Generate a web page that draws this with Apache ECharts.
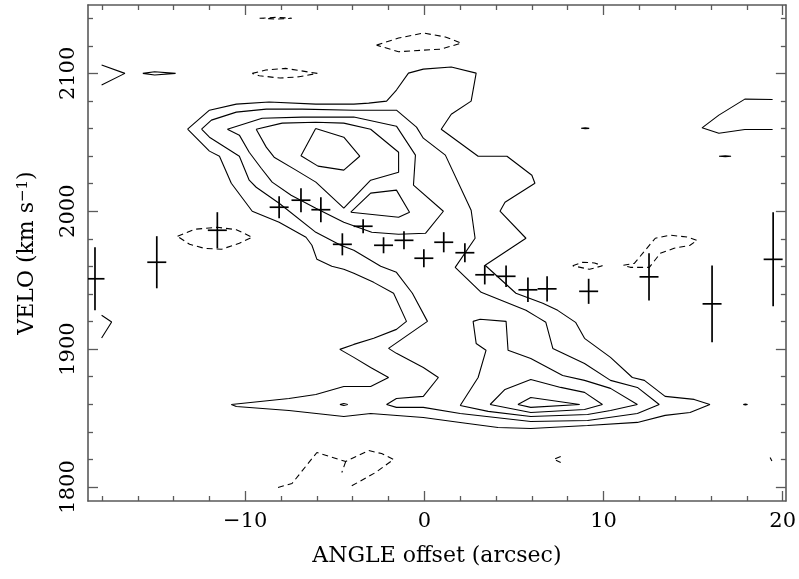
<!DOCTYPE html>
<html>
<head>
<meta charset="utf-8">
<script src="https://cdn.jsdelivr.net/npm/echarts@6/dist/echarts.min.js"></script>
<style>
html, body { margin: 0; padding: 0; background: #fff; }
#main { width: 799px; height: 579px; }
</style>
</head>
<body>
<div id="main"></div>
<script>
// axis ranges and ticks
const xRange = [-18.78, 20.18];
const yRange = [1789.8, 2149.6];
const xMajor = [-10, 0, 10, 20];
const xMinor = [-18, -16, -14, -12, -8, -6, -4, -2, 2, 4, 6, 8, 12, 14, 16, 18];
const yMajor = [1800, 1900, 2000, 2100];
const yMinor = [1820, 1840, 1860, 1880, 1920, 1940, 1960, 1980, 2020, 2040, 2060, 2080, 2120, 2140];

// measured velocities along the slit (arcsec, km/s, km/s error)
const ptX = [-18.39, -14.94, -11.56, -8.11, -6.89, -5.78, -4.58, -3.42, -2.28, -1.14, -0.03, 1.08, 2.26, 3.37, 4.56, 5.78, 6.85, 9.17, 12.54, 16.06, 19.47];
const ptV = [1951.0, 1963.0, 1986.2, 2002.9, 2008.0, 2001.1, 1976.0, 1989.1, 1975.3, 1978.9, 1965.9, 1977.5, 1969.9, 1953.9, 1952.8, 1943.0, 1943.7, 1941.9, 1952.4, 1932.8, 1965.1];
const ptErr = [22.9, 18.9, 13.1, 8.0, 8.7, 9.1, 8.0, 5.1, 5.8, 6.5, 6.5, 7.3, 6.9, 7.0, 7.8, 8.9, 9.2, 9.1, 17.2, 27.8, 34.1];
const ptErrX = 0.53;

// positive contours (closed)
const lev1 = [[-13.22,2059.5],[-12.0,2073.3],[-10.5,2077.7],[-8.67,2079.2],[-6.06,2077.7],[-3.94,2077.7],[-3.11,2078.4],[-2.11,2079.9],[-1.56,2087.9],[-0.89,2100.2],[-0.06,2103.1],[1.5,2104.6],[2.89,2100.2],[2.61,2079.9],[1.5,2070.4],[0.94,2059.5],[3.0,2039.9],[4.61,2039.9],[6.0,2026.1],[6.17,2020.3],[4.5,2006.5],[4.22,2000.0],[5.67,1980.4],[3.39,1960.8],[5.11,1940.5],[6.61,1933.2],[7.44,1928.1],[8.44,1919.4],[8.94,1907.8],[10.39,1894.0],[11.61,1879.4],[12.28,1877.3],[13.44,1865.7],[15.06,1863.5],[15.94,1859.8],[14.83,1854.0],[13.44,1851.9],[11.89,1846.8],[9.11,1844.6],[5.94,1842.4],[4.11,1843.1],[2.0,1846.8],[-0.06,1850.4],[-3.0,1853.3],[-4.5,1851.1],[-7.56,1855.5],[-10.5,1858.4],[-10.78,1859.8],[-7.56,1864.2],[-6.06,1867.1],[-4.5,1872.9],[-3.0,1872.9],[-2.0,1879.4],[-3.0,1886.7],[-3.94,1894.0],[-4.72,1899.8],[-3.94,1903.4],[-2.83,1907.8],[-1.56,1914.3],[-1.0,1920.1],[-1.72,1940.5],[-2.83,1948.4],[-3.94,1955.0],[-4.5,1957.9],[-5.17,1960.1],[-6.0,1965.1],[-6.28,1975.3],[-6.61,1981.1],[-8.11,1992.0],[-9.61,2000.0],[-10.78,2020.3],[-11.44,2039.9],[-12.0,2043.6]];
const lev2 = [[-12.44,2059.5],[-11.89,2066.1],[-10.5,2071.9],[-8.83,2074.1],[-6.83,2074.1],[-3.94,2073.3],[-1.56,2073.3],[-0.44,2061.0],[-0.06,2053.0],[1.17,2040.7],[2.61,2000.7],[2.83,1980.4],[1.72,1959.3],[3.17,1941.2],[5.67,1928.1],[6.33,1923.0],[6.78,1919.4],[7.17,1900.5],[8.94,1889.6],[10.39,1877.3],[11.89,1872.2],[13.11,1859.8],[11.89,1853.3],[9.11,1848.2],[5.94,1847.5],[2.0,1853.3],[-0.06,1857.7],[-1.56,1857.7],[-2.11,1859.8],[-1.56,1864.2],[-0.06,1865.7],[0.78,1879.4],[-0.06,1886.7],[-1.56,1896.9],[-2.0,1900.5],[0.17,1920.1],[-0.67,1940.5],[-1.56,1955.7],[-2.44,1960.1],[-3.94,1971.7],[-4.67,1975.3],[-6.06,1984.7],[-8.11,2005.8],[-9.39,2017.4],[-9.78,2022.5],[-10.33,2039.9],[-12.0,2053.7]];
const lev3Upper = [[-11.0,2059.5],[-9.06,2067.5],[-6.83,2068.3],[-3.94,2068.3],[-1.56,2061.7],[-0.5,2040.7],[-0.61,2018.9],[1.06,2000.0],[0.06,1984.0],[-1.44,1983.3],[-2.94,1984.7],[-4.5,1992.0],[-6.06,2002.2],[-7.44,2011.6],[-8.5,2021.1],[-9.11,2031.2],[-9.78,2042.8],[-10.33,2055.2]];
const lev3Lower = [[2.0,1859.1],[3.0,1879.4],[3.44,1899.1],[2.89,1904.1],[2.72,1920.1],[3.11,1921.6],[4.56,1920.1],[4.67,1899.1],[5.94,1893.2],[7.72,1880.9],[8.94,1877.3],[10.39,1871.5],[11.89,1859.8],[10.39,1855.5],[9.11,1852.6],[5.94,1851.1],[3.56,1854.8]];
const lev4Upper = [[-9.39,2059.5],[-7.94,2063.9],[-6.06,2064.6],[-4.5,2063.9],[-3.0,2059.5],[-1.44,2042.8],[-1.44,2028.3],[-3.0,2022.5],[-4.5,2002.2],[-6.06,2021.1],[-7.17,2029.8],[-8.39,2039.2],[-8.83,2046.5]];
const lev4Lower = [[3.67,1859.8],[4.5,1870.7],[5.94,1878.0],[7.61,1872.2],[8.94,1868.6],[9.94,1859.8],[8.94,1856.2],[5.94,1854.0]];
const lev5Upper = [[-6.07,2060.0],[-4.5,2053.7],[-3.61,2039.9],[-4.5,2029.8],[-5.94,2032.7],[-6.89,2040.3]];
const lev5Mid = [[-4.11,1999.3],[-3.0,2013.1],[-1.56,2015.3],[-0.83,1999.3],[-1.44,1995.6]];
const lev5Lower = [[5.22,1859.8],[5.94,1864.9],[8.67,1859.8],[5.94,1857.7]];
const dotA = [[-4.72,1859.8],[-4.5,1860.5],[-4.28,1859.8],[-4.5,1859.1]];
const dotB = [[17.8,1859.8],[17.92,1860.2],[18.04,1859.8],[17.92,1859.4]];
const blipA = [[8.75,2060.2],[8.98,2060.6],[9.2,2060.1],[8.98,2059.8]];
const blipB = [[16.45,2039.9],[16.8,2040.3],[17.12,2039.9],[16.8,2039.5]];
const lensTop = [[-15.72,2100.0],[-15.06,2101.2],[-13.89,2100.0],[-15.06,2098.8]];

// positive contours cut by the data edge (open)
const arcRight = [[19.44,2081.1],[17.89,2081.3],[16.44,2069.7],[15.5,2060.5],[16.44,2056.6],[17.89,2059.3],[19.44,2059.3]];
const chevTop = [[-18.02,2106.0],[-16.72,2100.0],[-18.02,2091.5]];
const chevLow = [[-18.02,1924.5],[-17.46,1919.6],[-18.02,1908.0]];

// negative contours (dashed)
const negTop = [[-9.2,2140.0],[-8.3,2140.6],[-7.4,2140.0],[-8.3,2139.4]];
const negA = [[-2.67,2120.5],[-1.44,2125.6],[-0.06,2129.3],[1.17,2126.4],[2.06,2122.0],[0.94,2117.6],[-1.44,2115.7]];
const negB = [[-9.61,2100.0],[-8.85,2102.4],[-7.74,2103.6],[-5.98,2100.0],[-7.0,2097.5],[-8.06,2096.6],[-9.22,2098.3]];
const negC = [[-13.78,1981.8],[-12.83,1986.9],[-11.56,1988.4],[-10.5,1986.6],[-9.61,1981.1],[-10.33,1976.8],[-11.33,1972.4],[-12.28,1973.1],[-13.11,1976.0]];
const negD = [[11.11,1960.8],[11.72,1962.2],[12.33,1971.7],[12.89,1980.4],[13.72,1982.6],[14.67,1981.3],[15.22,1978.9],[14.83,1975.3],[13.94,1973.1],[13.17,1969.5],[12.56,1959.3],[11.5,1959.3]];
const negE = [[8.28,1960.4],[8.83,1963.0],[9.5,1962.5],[9.94,1960.4],[9.22,1957.9]];
const negBottom = [[-8.17,1799.6],[-7.39,1802.5],[-6.0,1825.0],[-4.78,1820.0],[-4.39,1818.5],[-3.11,1826.4],[-2.39,1824.2],[-1.72,1819.9],[-2.72,1810.5],[-4.22,1799.6]];
const negBottomStub = [[-4.39,1818.5],[-4.61,1810.5]];
const negSmallA = [[7.61,1822.1],[7.22,1820.0],[7.61,1817.8]];
const negSmallB = [[19.3,1821.4],[19.4,1818.9]];

const solidClosed = [lev1, lev2, lev3Upper, lev3Lower, lev4Upper, lev4Lower, lev5Upper, lev5Mid, lev5Lower, dotA, dotB, blipA, blipB, lensTop];
const solidOpen = [arcRight, chevTop, chevLow];
const dashClosed = [negTop, negA, negB, negC, negD, negE];
const dashOpen = [negBottom, negBottomStub, negSmallA, negSmallB];

const frameColor = '#5a5a5a';
const fontName = 'DejaVu Serif';

function contour(pts, closed, dashed) {
  return {
    type: 'line',
    data: closed ? pts.concat([pts[0]]) : pts,
    symbol: 'none',
    silent: true,
    lineStyle: { color: '#000', width: 1.1, type: dashed ? [6, 4] : 'solid' },
    z: 3
  };
}

function minus(v) {
  return v < 0 ? '\u2212' + Math.abs(v) : String(v);
}

function xAx(pos, ticks, len, withLine, withLabel) {
  const a = {
    type: 'value', position: pos, min: xRange[0], max: xRange[1],
    axisLine: { show: withLine, onZero: false, lineStyle: { color: frameColor, width: 1.6 } },
    axisTick: { show: true, inside: true, length: len, customValues: ticks, lineStyle: { color: frameColor, width: 1.3 } },
    axisLabel: { show: withLabel, customValues: ticks, margin: 10, color: '#000', fontFamily: fontName, fontSize: 21, formatter: minus },
    splitLine: { show: false }
  };
  if (withLabel) {
    a.name = 'ANGLE offset (arcsec)';
    a.nameLocation = 'middle';
    a.nameGap = 44;
    a.nameTextStyle = { color: '#000', fontFamily: fontName, fontSize: 22 };
  }
  return a;
}

function yAx(pos, ticks, len, withLine, withLabel) {
  const a = {
    type: 'value', position: pos, min: yRange[0], max: yRange[1],
    axisLine: { show: withLine, onZero: false, lineStyle: { color: frameColor, width: 1.6 } },
    axisTick: { show: true, inside: true, length: len, customValues: ticks, lineStyle: { color: frameColor, width: 1.3 } },
    axisLabel: { show: withLabel, customValues: ticks, rotate: 90, margin: 9, color: '#000', fontFamily: fontName, fontSize: 21, formatter: v => String(v) },
    splitLine: { show: false }
  };
  if (withLabel) {
    a.name = '{a|VELO (km s}{b|\u22121}{a|)}';
    a.nameLocation = 'middle';
    a.nameGap = 50;
    a.nameTextStyle = {
      color: '#000',
      rich: {
        a: { fontFamily: fontName, fontSize: 22, color: '#000', verticalAlign: 'bottom' },
        b: { fontFamily: fontName, fontSize: 15, color: '#000', verticalAlign: 'top' }
      }
    };
  }
  return a;
}

const series = [];
solidClosed.forEach(c => series.push(contour(c, true, false)));
solidOpen.forEach(c => series.push(contour(c, false, false)));
dashClosed.forEach(c => series.push(contour(c, true, true)));
dashOpen.forEach(c => series.push(contour(c, false, true)));

series.push({
  type: 'custom',
  clip: true,
  silent: true,
  z: 4,
  data: ptX.map((x, i) => [x, ptV[i], ptErr[i]]),
  encode: { x: 0, y: 1 },
  renderItem: function (params, api) {
    const x = api.value(0), v = api.value(1), e = api.value(2);
    const l = api.coord([x - ptErrX, v]);
    const r = api.coord([x + ptErrX, v]);
    const t = api.coord([x, v + e]);
    const b = api.coord([x, v - e]);
    const st = { stroke: '#000', lineWidth: 1.7 };
    return {
      type: 'group',
      children: [
        { type: 'line', shape: { x1: l[0], y1: l[1], x2: r[0], y2: r[1] }, style: st },
        { type: 'line', shape: { x1: t[0], y1: t[1], x2: b[0], y2: b[1] }, style: st }
      ]
    };
  }
});

const chart = echarts.init(document.getElementById('main'));
chart.setOption({
  animation: false,
  backgroundColor: '#fff',
  grid: { left: 88, right: 10, top: 5, bottom: 78 },
  xAxis: [
    xAx('bottom', xMajor, 10, true, true),
    xAx('bottom', xMinor, 5, false, false),
    xAx('top', xMajor, 10, true, false),
    xAx('top', xMinor, 5, false, false)
  ],
  yAxis: [
    yAx('left', yMajor, 10, true, true),
    yAx('left', yMinor, 5, false, false),
    yAx('right', yMajor, 10, true, false),
    yAx('right', yMinor, 5, false, false)
  ],
  series: series
});
</script>
</body>
</html>
